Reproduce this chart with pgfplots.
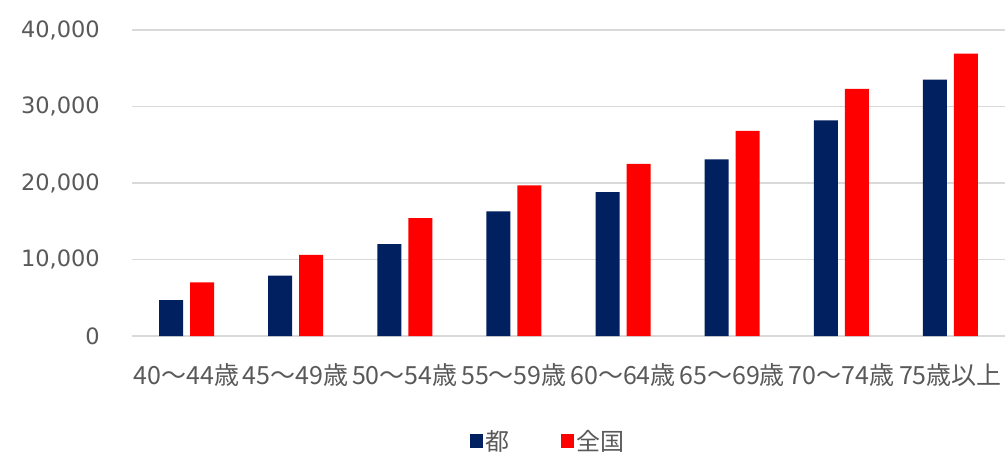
\documentclass[border=0pt]{standalone}
\usepackage{fontspec}
\setmainfont{Noto Sans CJK JP}
\newfontfamily\numfont{DejaVu Sans}
\usepackage{pgfplots}
\usepackage{pgfplotstable}
\pgfplotsset{compat=1.18}
\definecolor{tokyo}{HTML}{002060}
\definecolor{zenkoku}{HTML}{FF0000}
\definecolor{txtgray}{HTML}{595959}
\definecolor{gridgray}{HTML}{D9D9D9}

% age group index, Tokyo, national
\pgfplotstableread{
idx tokyo zenkoku
0 4700 7000
1 7900 10600
2 12000 15400
3 16300 19700
4 18800 22500
5 23100 26800
6 28200 32300
7 33500 36900
}\agedata

\begin{document}
\begin{tikzpicture}[x=1pt,y=1pt]
\begin{axis}[
  at={(132pt,119pt)}, anchor=south west,
  scale only axis, width=873pt, height=306pt,
  ybar=7pt, bar width=24pt,
  xmin=-0.5, xmax=7.5, ymin=0, ymax=40000,
  axis line style={draw=none},
  major tick length=0pt,
  ytick={0,10000,20000,30000,40000},
  ymajorgrids, grid style={gridgray, line width=1.5pt},
  scaled y ticks=false,
  /pgf/number format/assume math mode=true,
  yticklabel style={font=\numfont\fontsize{22.5}{26}\selectfont, text=txtgray,
    anchor=east, inner sep=0pt, xshift=-32pt,
    /pgf/number format/fixed, /pgf/number format/1000 sep={,}},
  xtick={0,...,7},
  xticklabels={40～44歳,45～49歳,50～54歳,55～59歳,60～64歳,65～69歳,70～74歳,75歳以上},
  xticklabel style={font=\fontsize{25}{28}\selectfont, text=txtgray,
    anchor=north, inner sep=0pt, yshift=-27pt},
  legend columns=2,
  legend style={at={(0.477,-0.343)}, anchor=center, draw=none, fill=none,
    font=\fontsize{24}{28}\selectfont, text=txtgray,
    /tikz/every even column/.append style={column sep=50pt}},
  legend image code/.code={\fill[#1] (-2pt,-7pt) rectangle (11pt,7pt);},
]
\addplot[fill=tokyo, draw=none] table[x=idx, y=tokyo] {\agedata};
\addplot[fill=zenkoku, draw=none] table[x=idx, y=zenkoku] {\agedata};
\legend{都,全国}
\end{axis}
\pgfresetboundingbox
\path (0,0) rectangle (1008,455);
\end{tikzpicture}
\end{document}
